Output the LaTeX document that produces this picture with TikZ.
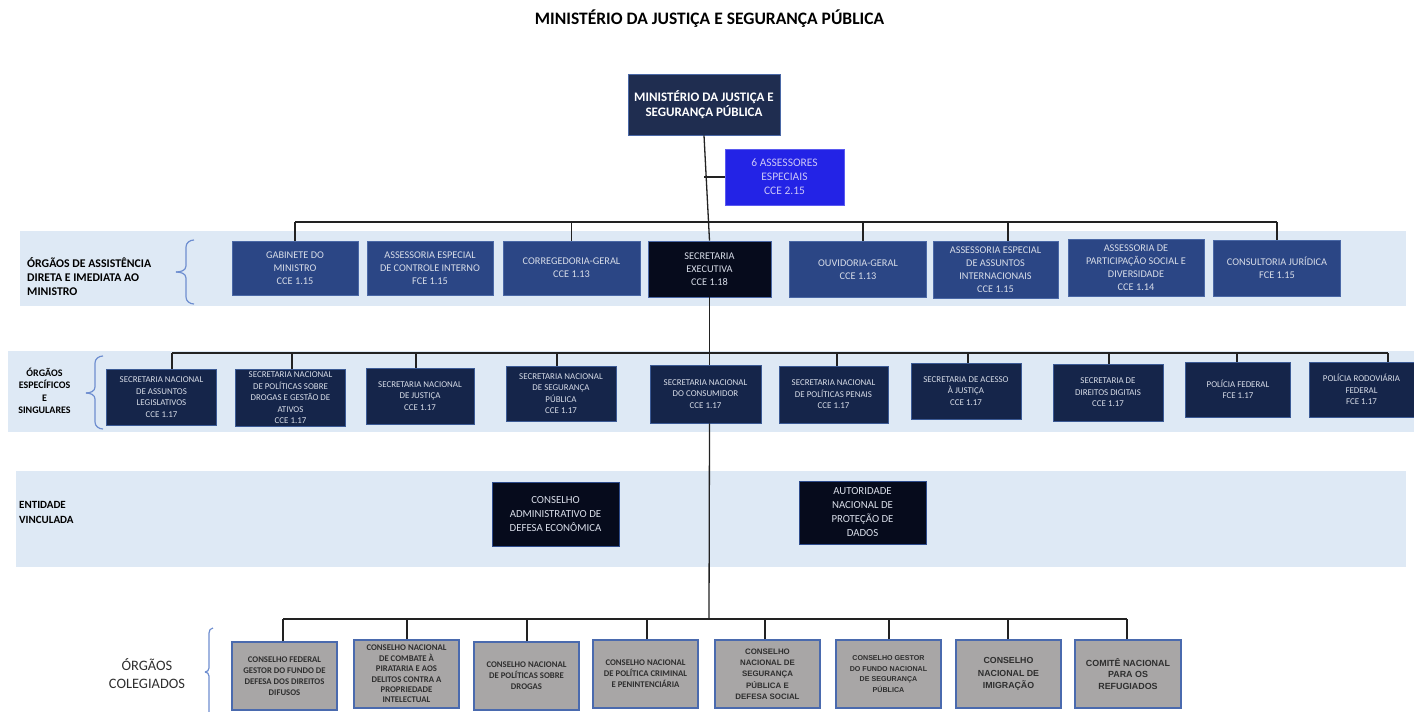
\documentclass[tikz,border=0pt]{standalone}
\usepackage{fontspec}
\setmainfont{Carlito}
\newfontfamily\arialf{Liberation Sans}
\definecolor{navytop}{HTML}{1F2D50}
\definecolor{rowa}{HTML}{2B4685}
\definecolor{rowab}{HTML}{4A68A6}
\definecolor{blk}{HTML}{060B1C}
\definecolor{blkb}{HTML}{2E4C8C}
\definecolor{rowb}{HTML}{15254A}
\definecolor{rowbb}{HTML}{3B5A95}
\definecolor{bandc}{HTML}{DEE9F5}
\definecolor{grayfill}{HTML}{A8A6A6}
\definecolor{grayb}{HTML}{4A6AAE}
\definecolor{asbl}{HTML}{2323E6}
\definecolor{asbb}{HTML}{5A5AF0}
\definecolor{astx}{HTML}{CBC6F7}
\definecolor{brc}{HTML}{6E8ED0}
\definecolor{lighttx}{HTML}{D8DDE8}
\definecolor{graytx}{HTML}{2E2E2E}
\definecolor{linec}{HTML}{222222}
\tikzset{
  bx/.style 2 args={minimum width=#1pt, minimum height=#2pt, inner sep=0pt, align=center},
  topbox/.style={draw=rowab, fill=navytop, line width=0.8pt, text=white, font=\fontsize{13}{14.5}\selectfont\bfseries},
  asbox/.style={draw=asbb, fill=asbl, line width=0.8pt, text=astx, font=\fontsize{11.5}{14}\selectfont},
  boxa/.style={draw=rowab, fill=rowa, line width=0.8pt, text=lighttx, font=\fontsize{10.3}{13}\selectfont},
  boxse/.style={draw=rowab, fill=blk, line width=0.8pt, text=lighttx, font=\fontsize{10.3}{13}\selectfont},
  boxb/.style={draw=rowbb, fill=rowb, line width=0.8pt, text=lighttx, font=\fontsize{8.9}{11.5}\selectfont},
  boxc/.style={draw=blkb, fill=blk, line width=0.8pt, text=lighttx, font=\fontsize{10.8}{14}\selectfont},
  boxd/.style={draw=grayb, fill=grayfill, line width=1.4pt, text=graytx, font=\fontsize{8.7}{11}\selectfont\bfseries},
  boxdar/.style={draw=grayb, fill=grayfill, line width=1.4pt, text=graytx, font=\arialf\bfseries\fontsize{8.9}{12}\selectfont},
  conn/.style={draw=linec, line width=1.3pt},
  bracec/.style={draw=brc, line width=1.2pt},
  lbl/.style={inner sep=0pt, text=black}
}
\begin{document}
\begin{tikzpicture}[x=1pt,y=-1pt]
\useasboundingbox (0,0) rectangle (1414,712);
% bands
\fill[bandc] (20,231) rectangle (1406,306);
\fill[bandc] (8,351) rectangle (1414,432);
\fill[bandc] (16,471) rectangle (1406,567);

% title
\node[lbl, font=\fontsize{17.5}{20}\selectfont\bfseries] (title) at (709.5,18.5) {MINISTÉRIO DA JUSTIÇA E SEGURANÇA PÚBLICA};

% top
\node[topbox, bx={152}{61}] (min) at (704,104.5) {MINISTÉRIO DA JUSTIÇA E\\SEGURANÇA PÚBLICA};
\node[asbox, bx={119}{56}] (as) at (784.5,177) {6 ASSESSORES\\ESPECIAIS\\CCE 2.15};

% row 1
\node[boxa, bx={126}{54}] (gab) at (295,268) {GABINETE DO\\MINISTRO\\CCE 1.15};
\node[boxa, bx={126}{54}] (aci) at (430,268) {ASSESSORIA ESPECIAL\\DE CONTROLE INTERNO\\FCE 1.15};
\node[boxa, bx={137}{54}] (cor) at (571.5,268) {CORREGEDORIA-GERAL\\CCE 1.13};
\node[boxse, bx={123}{56}] (se) at (709.5,269) {SECRETARIA\\EXECUTIVA\\CCE 1.18};
\node[boxa, bx={137}{56}] (ouv) at (858,269.5) {OUVIDORIA-GERAL\\CCE 1.13};
\node[boxa, bx={125}{57}] (aai) at (995.5,270) {ASSESSORIA ESPECIAL\\DE ASSUNTOS\\INTERNACIONAIS\\CCE 1.15};
\node[boxa, bx={136}{57}] (aps) at (1136,267.5) {ASSESSORIA DE\\PARTICIPAÇÃO SOCIAL E\\DIVERSIDADE\\CCE 1.14};
\node[boxa, bx={127}{56}] (cj) at (1277,268) {CONSULTORIA JURÍDICA\\FCE 1.15};

% row 2
\node[boxb, bx={110}{56}] (b1) at (161.5,397) {SECRETARIA NACIONAL\\DE ASSUNTOS\\LEGISLATIVOS\\CCE 1.17};
\node[boxb, bx={110}{57}] (b2) at (290.5,398) {SECRETARIA NACIONAL\\DE POLÍTICAS SOBRE\\DROGAS E GESTÃO DE\\ATIVOS\\CCE 1.17};
\node[boxb, bx={108}{56}] (b3) at (420,396) {SECRETARIA NACIONAL\\DE JUSTIÇA\\CCE 1.17};
\node[boxb, bx={110}{55}] (b4) at (561,393.5) {SECRETARIA NACIONAL\\DE SEGURANÇA\\PÚBLICA\\CCE 1.17};
\node[boxb, bx={111}{58}] (b5) at (705.5,394) {SECRETARIA NACIONAL\\DO CONSUMIDOR\\CCE 1.17};
\node[boxb, bx={109}{57}] (b6) at (833.5,394.5) {SECRETARIA NACIONAL\\DE POLÍTICAS PENAIS\\CCE 1.17};
\node[boxb, bx={110}{56}] (b7) at (966,391) {SECRETARIA DE ACESSO\\À JUSTIÇA\\CCE 1.17};
\node[boxb, bx={110}{57}] (b8) at (1108,392.5) {SECRETARIA DE\\DIREITOS DIGITAIS\\CCE 1.17};
\node[boxb, bx={105}{55}] (b9) at (1238,389.5) {POLÍCIA FEDERAL\\FCE 1.17};
\node[boxb, bx={105}{55}] (b10) at (1361.5,389.5) {POLÍCIA RODOVIÁRIA\\FEDERAL\\FCE 1.17};

% row 3
\node[boxc, bx={127}{64}] (cade) at (555.5,514) {CONSELHO\\ADMINISTRATIVO DE\\DEFESA ECONÔMICA};
\node[boxc, bx={127}{63}] (anpd) at (862.5,512.5) {AUTORIDADE\\NACIONAL DE\\PROTEÇÃO DE\\DADOS};

% row 4
\node[boxd, bx={105}{68}] (c1) at (284.5,676) {CONSELHO FEDERAL\\GESTOR DO FUNDO DE\\DEFESA DOS DIREITOS\\DIFUSOS};
\node[boxd, bx={105}{68}, font=\fontsize{8.7}{10.4}\selectfont\bfseries] (c2) at (406.5,674) {CONSELHO NACIONAL\\DE COMBATE À\\PIRATARIA E AOS\\DELITOS CONTRA A\\PROPRIEDADE\\INTELECTUAL};
\node[boxd, bx={105}{68}] (c3) at (526.5,676) {CONSELHO NACIONAL\\DE POLÍTICAS SOBRE\\DROGAS};
\node[boxd, bx={105}{68}] (c4) at (645.5,674) {CONSELHO NACIONAL\\DE POLÍTICA CRIMINAL\\E PENINTENCIÁRIA};
\node[boxdar, bx={105}{68}, font=\arialf\bfseries\fontsize{7.9}{11.3}\selectfont] (c5) at (767.5,674) {CONSELHO\\NACIONAL DE\\SEGURANÇA\\PÚBLICA E\\DEFESA SOCIAL};
\node[boxdar, bx={105}{68}, font=\arialf\bfseries\fontsize{7.1}{10.7}\selectfont] (c6) at (888.5,674) {CONSELHO GESTOR\\DO FUNDO NACIONAL\\DE SEGURANÇA\\PÚBLICA};
\node[boxdar, bx={105}{68}, font=\arialf\bfseries\fontsize{8.8}{12.8}\selectfont] (c7) at (1008.5,674) {CONSELHO\\NACIONAL DE\\IMIGRAÇÃO};
\node[boxdar, bx={106}{68}, font=\arialf\bfseries\fontsize{8.9}{11.8}\selectfont] (c8) at (1128,674) {COMITÊ NACIONAL\\PARA OS\\REFUGIADOS};

% bus coordinates
\coordinate (bus1) at (709,222);
\coordinate (bus2) at (709,353);
\coordinate (bus4) at (709,619);

% main spine
\draw[conn] (min.south) -- (se.north);
\draw[conn] (min.south |- as.west) -- (as.west);
\draw[conn] (se.south) -- (b5.north -| se.south);
\draw[conn] (b5.south -| se.south) -- (bus4);

% row 1 bus and drops
\draw[conn] (gab.north |- bus1) -- (cj.north |- bus1);
\draw[conn] (gab.north) -- (gab.north |- bus1);
\draw[conn] (cor.north) -- (cor.north |- bus1);
\draw[conn] ([xshift=5pt]ouv.north) -- ([xshift=5pt]ouv.north |- bus1);
\draw[conn] ([xshift=12.5pt]aai.north) -- ([xshift=12.5pt]aai.north |- bus1);
\draw[conn] (cj.north) -- (cj.north |- bus1);

% row 2 bus and drops
\draw[conn] ([xshift=10.5pt]b1.north |- bus2) -- ([xshift=26.5pt]b10.north |- bus2);
\draw[conn] ([xshift=10.5pt]b1.north) -- ([xshift=10.5pt]b1.north |- bus2);
\draw[conn] ([xshift=1.5pt]b2.north) -- ([xshift=1.5pt]b2.north |- bus2);
\draw[conn] ([xshift=-4pt]b3.north) -- ([xshift=-4pt]b3.north |- bus2);
\draw[conn] ([xshift=-4pt]b4.north) -- ([xshift=-4pt]b4.north |- bus2);
\draw[conn] ([xshift=3.5pt]b6.north) -- ([xshift=3.5pt]b6.north |- bus2);
\draw[conn] ([xshift=2pt]b7.north) -- ([xshift=2pt]b7.north |- bus2);
\draw[conn] ([xshift=1pt]b8.north) -- ([xshift=1pt]b8.north |- bus2);
\draw[conn] ([xshift=-1pt]b9.north) -- ([xshift=-1pt]b9.north |- bus2);
\draw[conn] ([xshift=26.5pt]b10.north) -- ([xshift=26.5pt]b10.north |- bus2);

% row 4 bus and drops
\draw[conn] ([xshift=-1.5pt]c1.north |- bus4) -- ([xshift=-1pt]c8.north |- bus4);
\foreach \n/\s in {c1/-1.5,c2/0.5,c3/0.5,c4/1.5,c5/-2.5,c6/0.5,c7/-0.5,c8/-1}{
  \draw[conn] ([xshift=\s pt]\n.north) -- ([xshift=\s pt]\n.north |- bus4);
}

% labels
\node[lbl, anchor=west, align=left, font=\fontsize{11.8}{14}\selectfont\bfseries] (l1) at (27,276.5) {ÓRGÃOS DE ASSISTÊNCIA\\DIRETA E IMEDIATA AO\\MINISTRO};
\node[lbl, align=center, font=\fontsize{10}{12.5}\selectfont\bfseries] (l2) at (44.5,391) {ÓRGÃOS\\ESPECÍFICOS\\E\\SINGULARES};
\node[lbl, anchor=west, align=left, font=\fontsize{11}{15}\selectfont\bfseries] (l3) at (19,512) {ENTIDADE\\VINCULADA};
\node[lbl, align=center, text=graytx, font=\fontsize{14.4}{18.5}\selectfont] (l4) at (147,673.5) {ÓRGÃOS\\COLEGIADOS};

% braces
\draw[bracec] (194,240) to[out=180,in=90] (186,247) -- (186,266) to[out=-90,in=0] (176,272);
\draw[bracec] (176,272) to[out=0,in=90] (186,278) -- (186,297) to[out=-90,in=180] (194,304);
\draw[bracec] (103,356) to[out=180,in=90] (95,363) -- (95,387) to[out=-90,in=0] (86,393);
\draw[bracec] (86,393) to[out=0,in=90] (95,399) -- (95,422) to[out=-90,in=180] (103,429);
\draw[bracec] (213,628) to[out=180,in=90] (209,633) -- (209,668) to[out=-90,in=0] (205,672);
\draw[bracec] (205,672) to[out=0,in=90] (209,676) -- (209,712);
\end{tikzpicture}
\end{document}
